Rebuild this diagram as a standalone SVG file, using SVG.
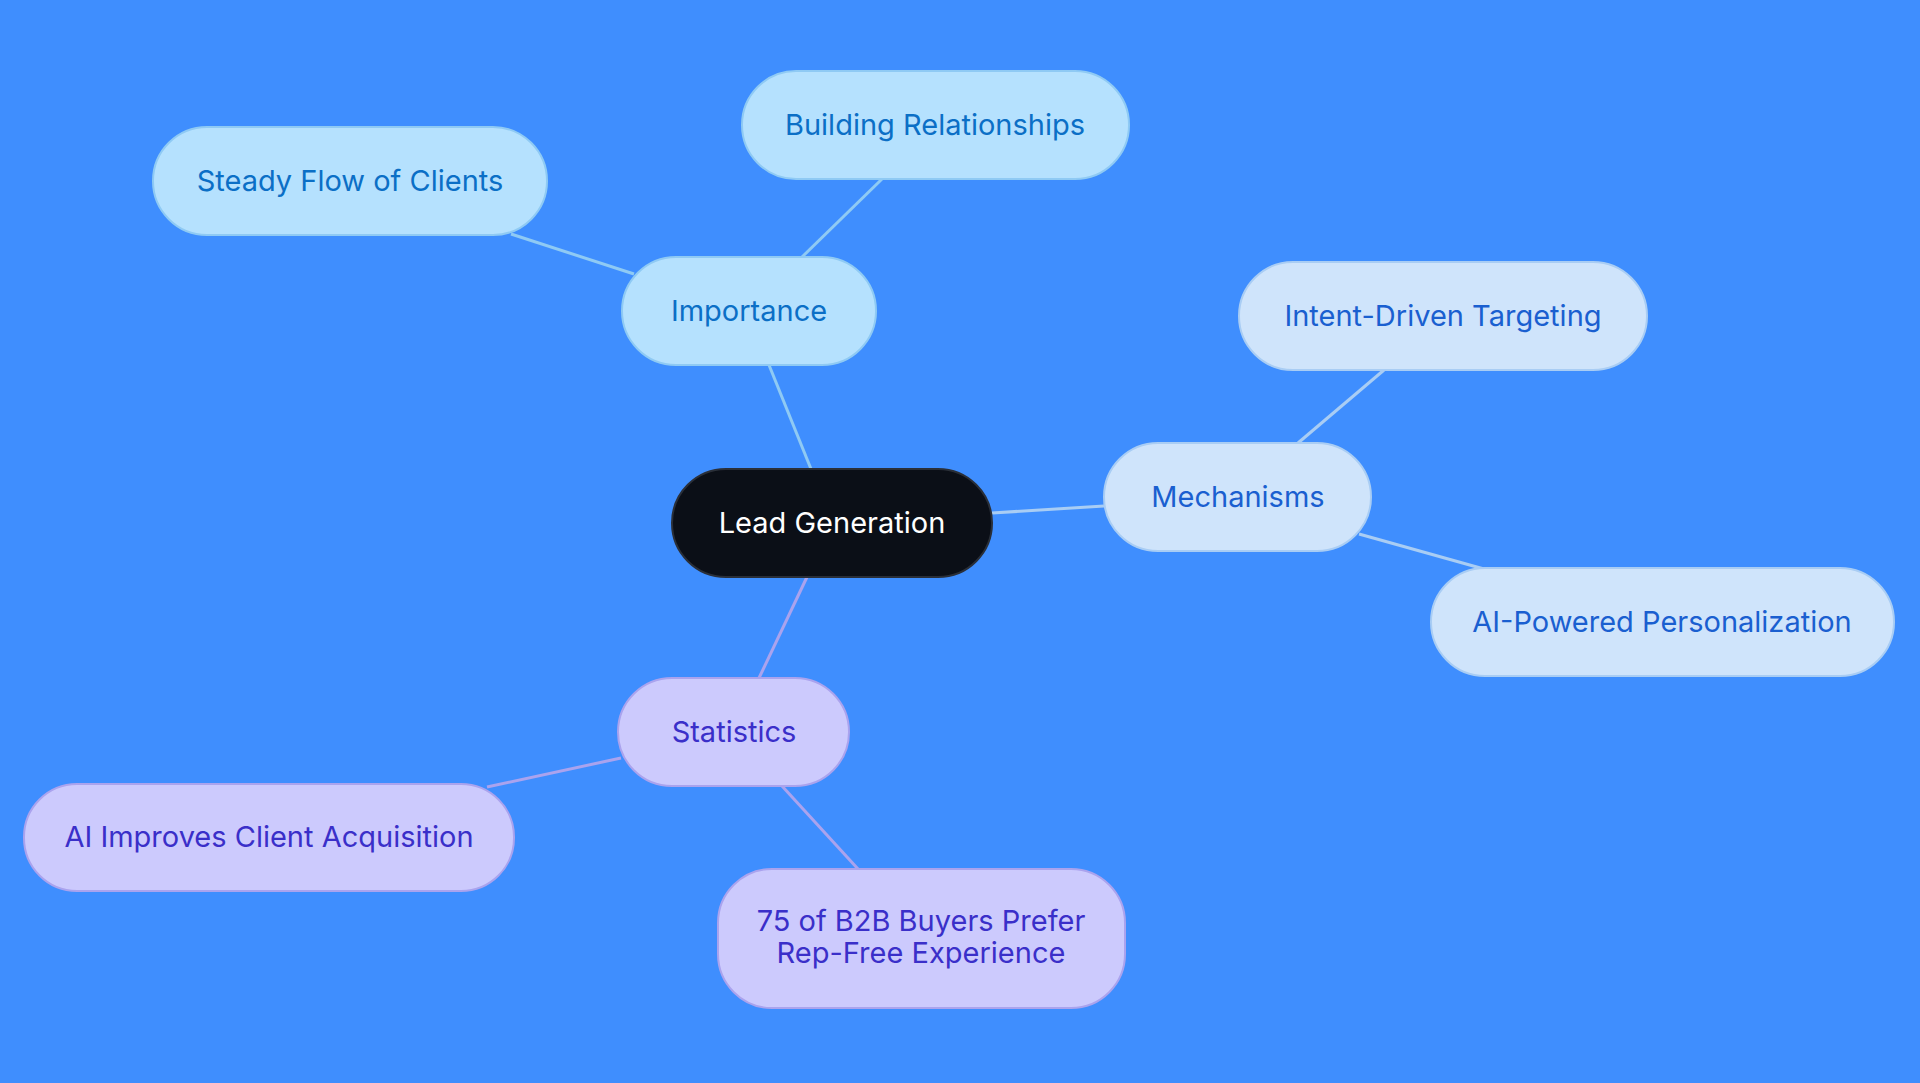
<svg xmlns="http://www.w3.org/2000/svg" width="1920" height="1083" viewBox="0 0 1920 1083">
<style>
text{font-family:Inter,"Noto Sans",sans-serif;font-size:29px;text-anchor:middle;dominant-baseline:central}
.a rect{fill:#b5e1fe;stroke:#8fcaf4;stroke-width:2}.a text{fill:#0b6fc6}
.b rect{fill:#cfe4fb;stroke:#a9cdf4;stroke-width:2}.b text{fill:#1a5fd0}
.c rect{fill:#cccafd;stroke:#aaa3ee;stroke-width:2}.c text{fill:#3a2fc9}
.l line{stroke-width:3}
</style>
<rect width="1920" height="1083" fill="#3f8efe"/>
<g class="l" id="connectors">
<line x1="769" y1="365" x2="811" y2="469" stroke="#8fcaf4"/>
<line x1="802" y1="257" x2="882" y2="179" stroke="#8fcaf4"/>
<line x1="634" y1="274" x2="511" y2="234" stroke="#8fcaf4"/>
<line x1="992" y1="513" x2="1104" y2="506" stroke="#a9cdf4"/>
<line x1="1298" y1="443" x2="1384" y2="370" stroke="#a9cdf4"/>
<line x1="1359" y1="534" x2="1484" y2="569" stroke="#a9cdf4"/>
<line x1="807" y1="577" x2="759" y2="678" stroke="#aaa3ee"/>
<line x1="621" y1="758" x2="487" y2="787" stroke="#aaa3ee"/>
<line x1="782" y1="786" x2="858" y2="869" stroke="#aaa3ee"/>
</g>
<g id="lead"><rect x="672" y="469" width="320" height="108" rx="54" fill="#0b0f17" stroke="#2a2f38" stroke-width="2"/><text x="832" y="522" fill="#fff">Lead Generation</text></g>
<g id="importance" class="a"><rect x="622" y="257" width="254" height="108" rx="54"/><text x="749" y="310">Importance</text></g>
<g id="building" class="a"><rect x="742" y="71" width="387" height="108" rx="54"/><text x="935" y="124">Building Relationships</text></g>
<g id="steady" class="a"><rect x="153" y="127" width="394" height="108" rx="54"/><text x="350" y="180">Steady Flow of Clients</text></g>
<g id="mechanisms" class="b"><rect x="1104" y="443" width="267" height="108" rx="54"/><text x="1238" y="496">Mechanisms</text></g>
<g id="intent" class="b"><rect x="1239" y="262" width="408" height="108" rx="54"/><text x="1443" y="315">Intent-Driven Targeting</text></g>
<g id="aipowered" class="b"><rect x="1431" y="568" width="463" height="108" rx="54"/><text x="1662" y="621">AI-Powered Personalization</text></g>
<g id="statistics" class="c"><rect x="618" y="678" width="231" height="108" rx="54"/><text x="734" y="731">Statistics</text></g>
<g id="aiimproves" class="c"><rect x="24" y="784" width="490" height="107" rx="53"/><text x="269" y="836">AI Improves Client Acquisition</text></g>
<g id="b2b" class="c"><rect x="718" y="869" width="407" height="139" rx="54"/><text x="921" y="920">75 of B2B Buyers Prefer</text><text x="921" y="952">Rep-Free Experience</text></g>
</svg>
